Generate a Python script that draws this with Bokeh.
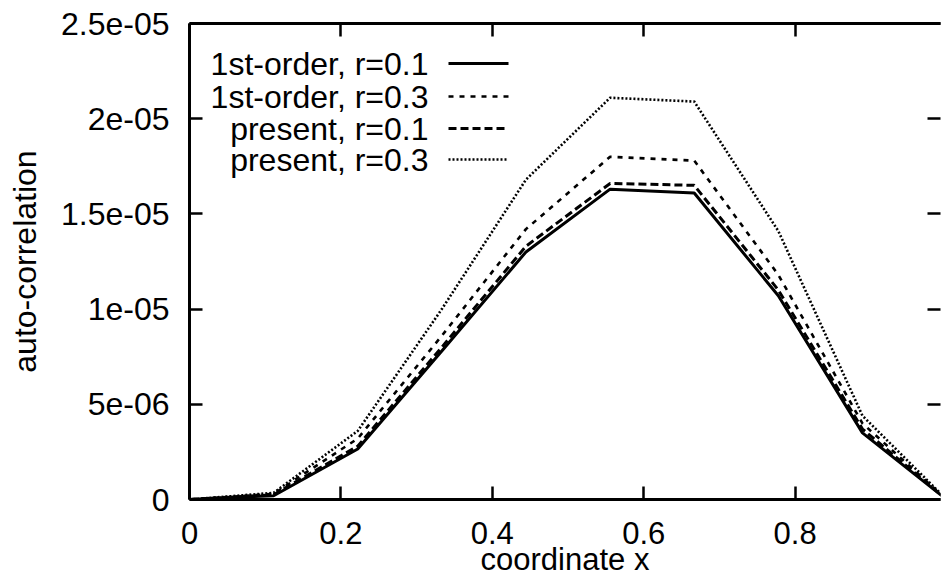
from bokeh.plotting import figure
from bokeh.models import Range1d, LinearAxis, FixedTicker, CustomJSTickFormatter, Label, Arrow
from bokeh.embed import file_html
from bokeh.resources import INLINE

# ---- data ----
coord_x = [0.0, 0.1111, 0.2222, 0.3333, 0.4444, 0.5556, 0.6667, 0.7778, 0.8889, 1.0]
first_order_r01 = [0.0, 2.0e-7, 2.65e-6, 7.8e-6, 1.30e-5, 1.63e-5, 1.61e-5, 1.07e-5, 3.5e-6, 0.0]
first_order_r03 = [0.0, 3.0e-7, 3.2e-6, 8.6e-6, 1.42e-5, 1.80e-5, 1.78e-5, 1.18e-5, 4.0e-6, 0.0]
present_r01 = [0.0, 2.5e-7, 2.8e-6, 8.0e-6, 1.33e-5, 1.66e-5, 1.65e-5, 1.10e-5, 3.7e-6, 0.0]
present_r03 = [0.0, 3.5e-7, 3.6e-6, 1.0e-5, 1.68e-5, 2.11e-5, 2.09e-5, 1.41e-5, 4.4e-6, 0.0]

series_labels = ["1st-order, r=0.1", "1st-order, r=0.3", "present, r=0.1", "present, r=0.3"]
x_ticks = [0, 0.2, 0.4, 0.6, 0.8, 1.0]
y_ticks = [0, 5e-6, 1e-5, 1.5e-5, 2e-5, 2.5e-5]
x_title = "coordinate x"
y_title = "auto-correlation"

FONT = "Liberation Sans"
FS = "32px"
FS_X = "31px"

# layout (pixels)
W, H = 941, 579
LEFT, TOP, BOTTOM_PX = 189, 23, 499
RIGHT = 940
X_END = 0.992
Y_END = 2.5e-5

p = figure(width=W, height=H, x_range=Range1d(0, X_END), y_range=Range1d(0, Y_END),
           output_backend="svg", toolbar_location=None,
           min_border_left=LEFT, min_border_right=W - RIGHT, min_border_top=TOP,
           min_border_bottom=H - BOTTOM_PX, x_axis_label=x_title, y_axis_label=y_title)
p.outline_line_color = None
p.xgrid.visible = False
p.ygrid.visible = False
p.background_fill_color = "white"
p.border_fill_color = "white"

xfmt = CustomJSTickFormatter(code="return String(Math.round(tick*10)/10);")
yfmt = CustomJSTickFormatter(code="""
if (tick == 0) return "0";
const s = tick.toExponential();
const parts = s.split("e");
const e = parseInt(parts[1]);
return parts[0] + "e" + (e < 0 ? "-" : "+") + String(Math.abs(e)).padStart(2, "0");
""")
blankfmt = CustomJSTickFormatter(code="return '';")

def style_axis(ax, labels=True, fs=FS):
    ax.axis_line_width = 3
    ax.axis_line_color = "black"
    ax.major_tick_in = 13
    ax.major_tick_out = 0
    ax.major_tick_line_width = 2.5
    ax.major_tick_line_color = "black"
    ax.minor_tick_line_color = None
    ax.major_label_text_font = FONT
    ax.major_label_text_color = "black"
    ax.axis_label_text_font = FONT
    ax.axis_label_text_font_style = "normal"
    ax.axis_label_text_color = "black"
    if labels:
        ax.major_label_text_font_size = fs
        ax.axis_label_text_font_size = fs
    else:
        ax.major_label_text_font_size = "1px"
        ax.major_label_standoff = 0

xa = p.xaxis[0]
style_axis(xa, fs=FS_X)
xa.ticker = FixedTicker(ticks=x_ticks)
xa.formatter = xfmt
xa.major_label_standoff = 22
xa.axis_label_standoff = -5

ya = p.yaxis[0]
style_axis(ya)
ya.ticker = FixedTicker(ticks=y_ticks)
ya.formatter = yfmt
ya.major_label_standoff = 20
ya.axis_label_standoff = 15

top_ax = LinearAxis(ticker=FixedTicker(ticks=x_ticks), formatter=blankfmt)
style_axis(top_ax, labels=False)
p.add_layout(top_ax, "above")

right_ax = LinearAxis(ticker=FixedTicker(ticks=y_ticks), formatter=blankfmt)
style_axis(right_ax, labels=False)
right_ax.axis_line_color = None
p.add_layout(right_ax, "right")

styles = [
    dict(line_width=3, line_dash="solid"),
    dict(line_width=2.6, line_dash="5 6"),
    dict(line_width=3, line_dash="8 4"),
    dict(line_width=2.6, line_dash="2 2"),
]
series = [first_order_r01, first_order_r03, present_r01, present_r03]
for ys, st in zip(series, styles):
    p.line(coord_x, ys, line_color="black", **st)

# ---- pixel helpers for the legend ----
xscale = (RIGHT - LEFT) / X_END
yscale = (BOTTOM_PX - TOP) / Y_END
def px2x(px):
    return (px - LEFT) / xscale
def py2y(py):
    return (BOTTOM_PX - py) / yscale

# ---- manual gnuplot-style legend (text right, sample line to the right) ----
rows_py = [63, 96, 128, 159]
for lab, st, py in zip(series_labels, styles, rows_py):
    p.add_layout(Label(x=px2x(428), y=py2y(py), text=lab, text_align="right",
                       text_baseline="middle", text_font=FONT, text_font_size=FS,
                       text_color="black"))
    p.add_layout(Arrow(end=None, x_start=px2x(448), y_start=py2y(py),
                       x_end=px2x(508), y_end=py2y(py), line_color="black", **st))

open("out.html", "w").write(file_html(p, INLINE))
